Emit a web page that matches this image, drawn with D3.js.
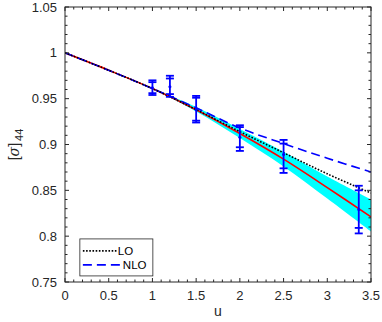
<!DOCTYPE html>
<html>
<head>
<meta charset="utf-8">
<script src="https://cdn.jsdelivr.net/npm/d3@7"></script>
<style>
  body { margin: 0; background: #fff; }
  svg { font-family: "Liberation Sans", Arial, sans-serif; }
</style>
</head>
<body>
<div id="chart"></div>
<script>
const uGrid = [0, 0.5, 1, 1.5, 2, 2.5, 3, 3.5];
const fitVals = [1.000, 0.981, 0.961, 0.938, 0.912, 0.884, 0.853, 0.821];
const bandLo = [1.000, 0.981, 0.9605, 0.936, 0.907, 0.876, 0.841, 0.805];
const bandHi = [1.000, 0.981, 0.9615, 0.941, 0.917, 0.892, 0.865, 0.840];
const loVals = [1.000, 0.981, 0.961, 0.938, 0.914, 0.891, 0.868, 0.847];
const nloVals = [1.000, 0.981, 0.961, 0.940, 0.918, 0.901, 0.885, 0.870];

// lattice points: centre, inner (stat) and outer (total) errors
const ptU = [1.0, 1.2, 1.5, 2.0, 2.5, 3.36];
const ptVal = [0.962, 0.963, 0.938, 0.908, 0.889, 0.829];
const ptInLo = [0.956, 0.955, 0.926, 0.897, 0.874, 0.809];
const ptInHi = [0.968, 0.972, 0.951, 0.919, 0.901, 0.850];
const ptOutLo = [0.954, 0.952, 0.924, 0.893, 0.869, 0.803];
const ptOutHi = [0.970, 0.975, 0.953, 0.921, 0.905, 0.855];

const xTicks = [0, 0.5, 1, 1.5, 2, 2.5, 3, 3.5];
const yTicks = [0.75, 0.8, 0.85, 0.9, 0.95, 1, 1.05];

const W = 382, H = 322;
const m = { top: 7, right: 11, bottom: 40, left: 65 };
const w = W - m.left - m.right;
const h = H - m.top - m.bottom;

const svg = d3.select('#chart').append('svg')
    .attr('width', W).attr('height', H);
const g = svg.append('g').attr('transform', `translate(${m.left},${m.top})`);

const x = d3.scaleLinear().domain([0, 3.5]).range([0, w]);
const y = d3.scaleLinear().domain([0.75, 1.05]).range([h, 0]);

const axisCol = '#262626';

// clip to the plot box
svg.append('defs').append('clipPath').attr('id', 'clip')
    .append('rect').attr('width', w).attr('height', h);
const plot = g.append('g').attr('clip-path', 'url(#clip)');

const curve = d3.curveCatmullRom;

// error band round the fit
const area = d3.area()
    .x((d, i) => x(uGrid[i]))
    .y0((d, i) => y(bandLo[i]))
    .y1((d, i) => y(bandHi[i]))
    .curve(curve);
plot.append('path').datum(uGrid).attr('d', area).attr('fill', '#00ffff');

const line = vals => d3.line()
    .x((d, i) => x(uGrid[i]))
    .y((d, i) => y(vals[i]))
    .curve(curve)(uGrid);

plot.append('path').attr('d', line(fitVals))
    .attr('fill', 'none').attr('stroke', '#ff0000').attr('stroke-width', 1.6);
plot.append('path').attr('d', line(nloVals))
    .attr('fill', 'none').attr('stroke', '#0000ff').attr('stroke-width', 1.6)
    .attr('stroke-dasharray', '9,5');
plot.append('path').attr('d', line(loVals))
    .attr('fill', 'none').attr('stroke', '#000').attr('stroke-width', 1.6)
    .attr('stroke-dasharray', '1.6,1.6');

// error bars
const capW = 4;
const bars = g.append('g').attr('stroke', '#0000ff').attr('stroke-width', 1.8);
ptU.forEach((u, i) => {
    const cx = x(u);
    bars.append('line').attr('x1', cx).attr('x2', cx)
        .attr('y1', y(ptOutLo[i])).attr('y2', y(ptOutHi[i]));
    [ptInLo[i], ptInHi[i], ptOutLo[i], ptOutHi[i]].forEach(v => {
        bars.append('line').attr('x1', cx - capW).attr('x2', cx + capW)
            .attr('y1', y(v)).attr('y2', y(v));
    });
    bars.append('circle').attr('cx', cx).attr('cy', y(ptVal[i])).attr('r', 1.5)
        .attr('fill', '#0000ff').attr('stroke', 'none');
});

// box + ticks on all sides
g.append('rect').attr('width', w).attr('height', h)
    .attr('fill', 'none').attr('stroke', axisCol).attr('stroke-width', 1);

const minorX = d3.range(0, 3.5001, 0.1);
const minorY = d3.range(0.75, 1.0501, 0.01);
const tk = g.append('g').attr('stroke', axisCol).attr('stroke-width', 1);
minorX.forEach(v => {
    const major = xTicks.some(t => Math.abs(t - v) < 1e-6);
    const len = major ? 4 : 2.5;
    tk.append('line').attr('x1', x(v)).attr('x2', x(v)).attr('y1', h).attr('y2', h - len);
    tk.append('line').attr('x1', x(v)).attr('x2', x(v)).attr('y1', 0).attr('y2', len);
});
minorY.forEach(v => {
    const major = yTicks.some(t => Math.abs(t - v) < 1e-6);
    const len = major ? 4 : 2.5;
    tk.append('line').attr('x1', 0).attr('x2', len).attr('y1', y(v)).attr('y2', y(v));
    tk.append('line').attr('x1', w).attr('x2', w - len).attr('y1', y(v)).attr('y2', y(v));
});

// tick labels
g.selectAll('.xl').data(xTicks).enter().append('text')
    .attr('x', d => x(d)).attr('y', h + 18)
    .attr('text-anchor', 'middle').attr('font-size', 13).attr('fill', axisCol)
    .text(d => d);
g.selectAll('.yl').data(yTicks).enter().append('text')
    .attr('x', -8).attr('y', d => y(d) + 4.5)
    .attr('text-anchor', 'end').attr('font-size', 13).attr('fill', axisCol)
    .text(d => d);

// axis titles
svg.append('text').attr('x', m.left + w / 2).attr('y', 316)
    .attr('text-anchor', 'middle').attr('font-size', 14).attr('fill', axisCol).text('u');
const yt = svg.append('text')
    .attr('transform', `translate(19,${m.top + h / 2}) rotate(-90)`)
    .attr('text-anchor', 'middle').attr('font-size', 14).attr('fill', axisCol);
yt.append('tspan').text('[');
yt.append('tspan').attr('font-style', 'italic').attr('font-family', 'DejaVu Serif, serif').text('σ');
yt.append('tspan').text(']');
yt.append('tspan').attr('dy', 4).attr('dx', 2).attr('font-size', 11).text('44');

// legend
const lg = g.append('g').attr('transform', `translate(${x(0.17)},${y(0.797)})`);
lg.append('rect').attr('width', 73).attr('height', 37)
    .attr('fill', '#fff').attr('stroke', axisCol).attr('stroke-width', 0.8);
const legItems = [
    { label: 'LO', color: '#000', dash: '1.6,1.6', len: 34 },
    { label: 'NLO', color: '#0000ff', dash: '9,5', len: 39 }
];
legItems.forEach((d, i) => {
    const ly = 12 + i * 14;
    lg.append('line').attr('x1', 3).attr('x2', 3 + d.len).attr('y1', ly).attr('y2', ly)
        .attr('stroke', d.color).attr('stroke-width', 1.6).attr('stroke-dasharray', d.dash);
    lg.append('text').attr('x', 3 + d.len + 1).attr('y', ly + 4)
        .attr('font-size', 11.5).attr('fill', '#000').text(d.label);
});
</script>
</body>
</html>
